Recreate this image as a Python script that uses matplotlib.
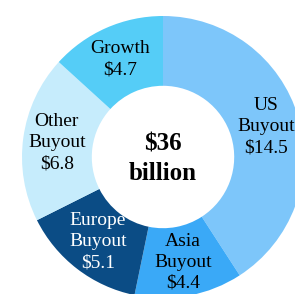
import matplotlib
matplotlib.use("Agg")
import matplotlib.pyplot as plt

categories = ["US\nBuyout", "Asia\nBuyout", "Europe\nBuyout", "Other\nBuyout", "Growth"]
values = [14.5, 4.4, 5.1, 6.8, 4.7]
colors = ["#7dc6fa", "#3aa9f7", "#0b4c85", "#c6ecfc", "#55cdf7"]
text_colors = ["black", "black", "white", "black", "black"]
center_text = "$36\nbillion"

W, H = 295, 294
cx, cy, R = 163, 157, 141

fig = plt.figure(figsize=(W / 100, H / 100), dpi=100)
ax = fig.add_axes([0, 0, 1, 1])
ax.set_aspect("equal")
ax.axis("off")

labels = [f"{c}\n${v}" for c, v in zip(categories, values)]
wedges, texts = ax.pie(values, colors=colors, startangle=90, counterclock=False,
                       radius=1.0, labels=labels, labeldistance=0.76,
                       wedgeprops=dict(width=0.495, edgecolor="none"),
                       textprops=dict(family="Liberation Serif", fontsize=14,
                                      ha="center", va="center", linespacing=1.32))
for t, tc in zip(texts, text_colors):
    t.set_color(tc)
    t.set_horizontalalignment("center")
    t.set_verticalalignment("center")

ax.text(0, -0.015, center_text, ha="center", va="center", family="Liberation Serif",
        fontsize=18, fontweight="bold", linespacing=1.37)

ax.set_xlim(-cx / R, (W - cx) / R)
ax.set_ylim(-(H - cy) / R, cy / R)
fig.savefig("out.png", dpi=100)
